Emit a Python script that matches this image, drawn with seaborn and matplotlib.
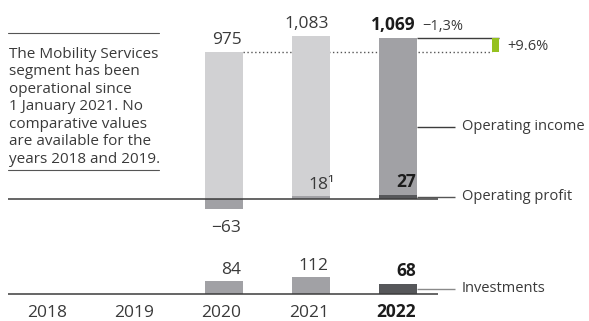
import matplotlib
matplotlib.use("Agg")
import matplotlib.pyplot as plt
from matplotlib.lines import Line2D
import pandas as pd
import seaborn as sns

# ---- data -------------------------------------------------------------
years = ["2018", "2019", "2020", "2021", "2022"]
data_years = ["2020", "2021", "2022"]
operating_income = [975, 1083, 1069]
operating_profit = [-63, 18, 27]
investments = [84, 112, 68]
income_labels = ["975", "1,083", "1,069"]
profit_labels = ["\u221263", "18\u00b9", "27"]
investment_labels = ["84", "112", "68"]
change_vs_prev = "\u22121,3%"
change_vs_two_years = "+9.6%"
note_text = ("The Mobility Services\nsegment has been\noperational since\n"
             "1 January 2021. No\ncomparative values\nare available for the\n"
             "years 2018 and 2019.")

# ---- style ------------------------------------------------------------
sns.set_theme(style="white")
plt.rcParams["font.family"] = ["Open Sans", "DejaVu Sans"]

LIGHT = "#d1d1d3"
MID = "#a1a1a5"
DARK = "#56575a"
GREEN = "#95c11f"
TEXT = "#3a3a3a"
BOLD_TEXT = "#1c1c1c"
LINE = "#3c3c3c"

W, H, DPI = 589, 321, 100
PX_PER_UNIT = 0.1508          # vertical pixels per value unit
STEP = 87.25                  # pixels between category centres
X0 = 49.0                     # pixel centre of the first category
BAR_W = 38 / STEP


def pt(px):
    return px * 72.0 / DPI


def xd(px):
    """horizontal pixel -> category axis position"""
    return (px - X0) / STEP


fig = plt.figure(figsize=(W / DPI, H / DPI), dpi=DPI)
fig.patch.set_facecolor("white")

# upper panel: operating income / operating profit (baseline 199 px)
top_h, top_base = 240, 199
ax_top = fig.add_axes([0, (H - top_h) / H, 1, top_h / H])
# lower panel: investments (baseline 294 px)
bot_h, bot_base = 81, 294 - 240
ax_bot = fig.add_axes([0, 0, 1, bot_h / H])

inc = pd.DataFrame({"year": data_years, "value": operating_income})
prof = pd.DataFrame({"year": data_years, "value": operating_profit})
inv = pd.DataFrame({"year": data_years, "value": investments})

common = dict(x="year", y="value", order=years, hue="year", width=BAR_W,
              errorbar=None, legend=False, saturation=1, linewidth=0)
sns.barplot(data=inc, palette=dict(zip(data_years, [LIGHT, LIGHT, MID])),
            ax=ax_top, zorder=2, **common)
sns.barplot(data=prof, palette=dict(zip(data_years, [MID, MID, DARK])),
            ax=ax_top, zorder=3, **common)
sns.barplot(data=inv, palette=dict(zip(data_years, [MID, MID, DARK])),
            ax=ax_bot, zorder=2, **common)

for ax, h, base in ((ax_top, top_h, top_base), (ax_bot, bot_h, bot_base)):
    ax.set_xlim(xd(0), xd(W))
    ax.set_ylim(-(h - base) / PX_PER_UNIT, base / PX_PER_UNIT)
    ax.axis("off")
    # baseline
    ax.plot([xd(8), xd(438)], [0, 0], color=LINE, lw=1.1, zorder=5,
            solid_capstyle="butt")

pos = {y: i for i, y in enumerate(years)}
right_edge = {y: pos[y] + BAR_W / 2 for y in data_years}


def value_label(ax, year, value, text, bold=False, size=12.5):
    above = value >= 0
    # a trailing footnote marker hangs past the bar edge
    dx = 5 if text.endswith("\u00b9") else -1
    ax.annotate(text, (right_edge[year], value),
                xytext=(pt(dx), pt(7.5) if above else pt(-23)),
                textcoords="offset points", ha="right", va="baseline",
                fontsize=size, fontweight="bold" if bold else "normal",
                color=BOLD_TEXT if bold else TEXT, zorder=6)


for i, y in enumerate(data_years):
    last = y == data_years[-1]
    value_label(ax_top, y, operating_income[i], income_labels[i], bold=last)
    value_label(ax_top, y, operating_profit[i], profit_labels[i], bold=last)
    value_label(ax_bot, y, investments[i], investment_labels[i], bold=last)

# change versus previous year, next to the 2022 income value
ax_top.annotate(change_vs_prev, (right_edge["2022"], operating_income[2]),
                xytext=(pt(5), pt(7.5)), textcoords="offset points",
                ha="left", va="baseline", fontsize=10.5, color=TEXT)

# change versus 2020: green step between the two income levels
g_left, g_w = xd(492), 7 / STEP
ax_top.plot([right_edge["2020"], g_left], [operating_income[0]] * 2,
            color="#555555", lw=1.0, ls=(0, (1, 1.8)), zorder=1)
ax_top.plot([right_edge["2022"], g_left + g_w], [operating_income[2]] * 2,
            color=LINE, lw=1.0, zorder=1, solid_capstyle="butt")
ax_top.bar(g_left + g_w / 2, operating_income[2] - operating_income[0],
           bottom=operating_income[0], width=g_w, color=GREEN, zorder=2,
           linewidth=0)
ax_top.annotate(change_vs_two_years,
                (g_left + g_w, (operating_income[0] + operating_income[2]) / 2),
                xytext=(pt(8), pt(-1.5)), textcoords="offset points",
                ha="left", va="center", fontsize=10.5, color=TEXT)

# series labels with leader lines
def series_label(ax, value, text, color):
    ax.plot([right_edge["2022"], xd(455)], [value, value], color=color,
            lw=1.0, zorder=4, solid_capstyle="butt")
    ax.text(xd(462), value, text, ha="left", va="center", fontsize=10.5,
            color=TEXT)


series_label(ax_top, 480, "Operating income", LINE)
series_label(ax_top, operating_profit[2] / 2, "Operating profit", "#555555")
series_label(ax_bot, investments[2] / 2, "Investments", "#8a8a8a")

# year labels, right aligned with the bars
for y in years:
    bold = y == years[-1]
    ax_bot.annotate(y, (pos[y] + BAR_W / 2, 0), xytext=(pt(-1), pt(-23)),
                    textcoords="offset points", ha="right", va="baseline",
                    fontsize=12.5, fontweight="bold" if bold else "normal",
                    color=BOLD_TEXT if bold else TEXT)

# note box on the left
for py in (33, 170):
    fig.add_artist(Line2D([8 / W, 159 / W], [1 - py / H] * 2,
                          transform=fig.transFigure, color="#555555", lw=0.8))
fig.text(9 / W, 1 - 163 / H, note_text, ha="left", va="baseline",
         fontsize=11, linespacing=1.23, color=TEXT)

fig.savefig("out.png", dpi=DPI, facecolor="white")
